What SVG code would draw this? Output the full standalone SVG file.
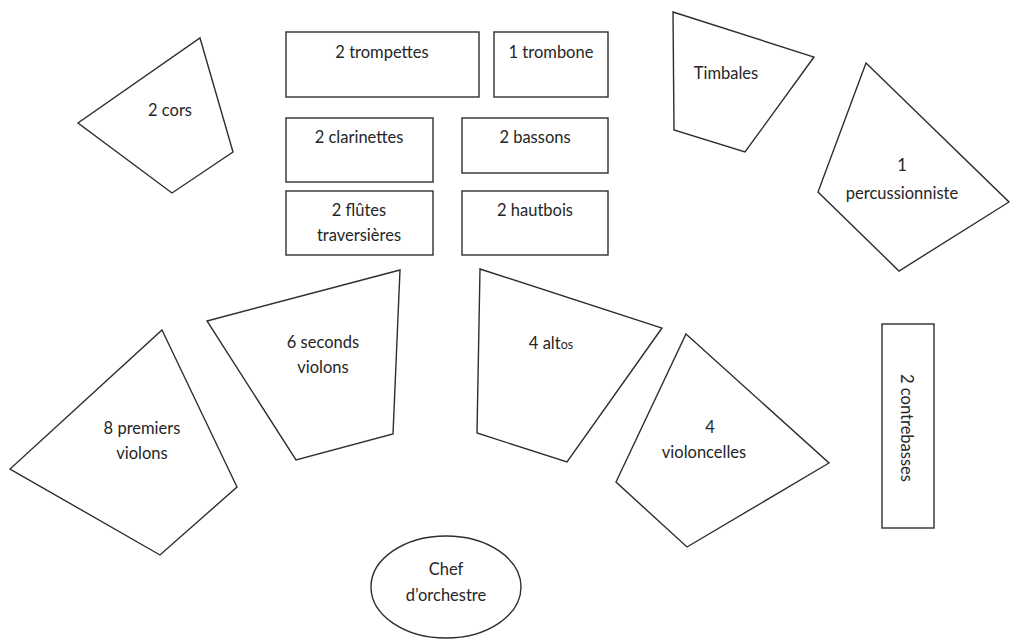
<svg xmlns="http://www.w3.org/2000/svg" width="1016" height="641" viewBox="0 0 1016 641">
<style>
.s{fill:#fff;stroke:#2e2e2e;stroke-width:1.4}
text{font-family:Lato,"Open Sans",sans-serif;font-size:16.5px;fill:#262626;text-anchor:middle}
.sm{font-size:12.5px}
</style>
<rect width="1016" height="641" fill="#fff"/>
<g id="cors"><polygon class="s" points="200,38 233,152 172,193 78,123"/><text x="170" y="116">2 cors</text></g>
<g id="trompettes"><rect class="s" x="286" y="32" width="193" height="65"/><text x="382" y="58">2 trompettes</text></g>
<g id="trombone"><rect class="s" x="494" y="32" width="114" height="65"/><text x="551" y="58">1 trombone</text></g>
<g id="clarinettes"><rect class="s" x="286" y="118" width="147" height="64"/><text x="359" y="143">2 clarinettes</text></g>
<g id="bassons"><rect class="s" x="462" y="118" width="146" height="55"/><text x="535" y="143">2 bassons</text></g>
<g id="flutes"><rect class="s" x="286" y="191" width="147" height="64"/><text x="359" y="216">2 flûtes</text><text x="359" y="241">traversières</text></g>
<g id="hautbois"><rect class="s" x="462" y="191" width="146" height="64"/><text x="535" y="216">2 hautbois</text></g>
<g id="timbales"><polygon class="s" points="673,12 814,57 745,152 674,130"/><text x="726" y="79">Timbales</text></g>
<g id="percussion"><polygon class="s" points="866,63 1009,202 899,271 818,192"/><text x="902" y="171">1</text><text x="902" y="199">percussionniste</text></g>
<g id="premiers"><polygon class="s" points="162,330 237,487 160,555 10,469"/><text x="142" y="434">8 premiers</text><text x="142" y="459">violons</text></g>
<g id="seconds"><polygon class="s" points="207,321 400,270 393,434 296,460"/><text x="323" y="348">6 seconds</text><text x="323" y="373">violons</text></g>
<g id="altos"><polygon class="s" points="480,269 662,328 567,462 477,433"/><text x="551" y="349">4 alt<tspan class="sm">os</tspan></text></g>
<g id="violoncelles"><polygon class="s" points="686,334 829,463 687,547 616,482"/><text x="710" y="433">4</text><text x="704" y="458">violoncelles</text></g>
<g id="contrebasses"><rect class="s" x="882" y="324" width="52" height="204"/><text transform="translate(907,428) rotate(90)" y="6">2 contrebasses</text></g>
<g id="chef"><ellipse class="s" cx="446" cy="587" rx="75" ry="51"/><text x="446" y="575">Chef</text><text x="446" y="601">d’orchestre</text></g>
<g id="connectors"/>
</svg>
